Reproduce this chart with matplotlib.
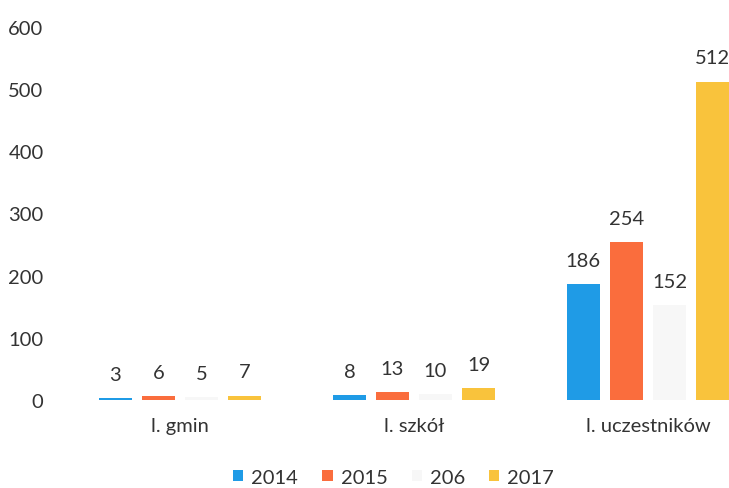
import matplotlib.pyplot as plt
import numpy as np

kategorie = ['l. gmin', 'l. szkół', 'l. uczestników']
lata = ['2014', '2015', '206', '2017']
w2014 = [3, 8, 186]
w2015 = [6, 13, 254]
w2016 = [5, 10, 152]
w2017 = [7, 19, 512]
kolory = ['#1f9be6', '#fa6d3d', '#f7f7f7', '#f9c33c']

plt.rcParams['font.family'] = ['Lato', 'DejaVu Sans']

fig = plt.figure(figsize=(7.29, 4.89), dpi=100)
ax = fig.add_axes([0.0864, 0.18, 0.963, 0.763])

x = np.arange(len(kategorie))
slot = 0.184
width = 0.141
serie = [w2014, w2015, w2016, w2017]
for i, (wart, kol, rok) in enumerate(zip(serie, kolory, lata)):
    pos = x + (i - 1.5) * slot
    bars = ax.bar(pos, wart, width, color=kol, label=rok)
    for b, v in zip(bars, wart):
        ax.text(b.get_x() + b.get_width() / 2, v + 38, str(v),
                ha='center', va='center', fontsize=14.5, color='#333333')

ax.set_xlim(-0.5, 2.5)
ax.set_ylim(0, 600)
ax.set_yticks(np.arange(0, 601, 100))
ax.set_xticks(x)
ax.set_xticklabels(kategorie)
ax.tick_params(axis='both', length=0, labelsize=14.5, colors='#333333')
ax.tick_params(axis='x', pad=12)
ax.tick_params(axis='y', pad=14)
for s in ax.spines.values():
    s.set_visible(False)

fig.legend(loc='center', bbox_to_anchor=(0.54, 0.022), ncol=4, frameon=False,
           fontsize=14.5, handlelength=0.5, handleheight=0.5, handletextpad=0.4,
           columnspacing=1.2, labelcolor='#333333')

fig.savefig('out.png', dpi=100)
